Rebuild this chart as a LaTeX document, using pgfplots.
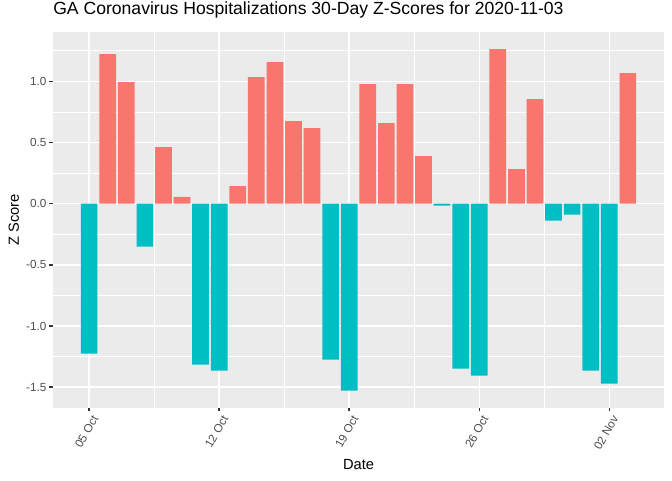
\documentclass[border=0pt]{standalone}
\usepackage{pgfplots}
\pgfplotsset{compat=1.18}
\usepackage{fontspec}
\setmainfont{Liberation Sans}

\definecolor{posred}{HTML}{F8766D}
\definecolor{negcyan}{HTML}{00BFC4}
\definecolor{panelbg}{HTML}{EBEBEB}
\definecolor{tickgray}{HTML}{333333}
\definecolor{labgray}{HTML}{4D4D4D}

\begin{document}
\begin{tikzpicture}
\path[use as bounding box] (0,0) rectangle (504pt,360pt);
\begin{axis}[
  at={(39.75pt,54.2pt)}, anchor=south west,
  scale only axis, width=458.25pt, height=281.8pt,
  xmin=-1.945, xmax=30.945, ymin=-1.668, ymax=1.404,
  axis background/.style={fill=panelbg},
  axis line style={draw=none},
  xtick pos=bottom, ytick pos=left,
  xtick={0,7,14,21,28},
  xticklabels={05 Oct,12 Oct,19 Oct,26 Oct,02 Nov},
  minor xtick={3.5,10.5,17.5,24.5},
  ytick={-1.5,-1,-0.5,0,0.5,1},
  yticklabels={-1.5,-1.0,-0.5,0.0,0.5,1.0},
  minor ytick={-1.25,-0.75,-0.25,0.25,0.75,1.25},
  grid=both,
  major grid style={white, line width=1.07pt},
  minor grid style={white, line width=0.53pt},
  tick align=outside,
  major tick length=2.75pt, minor tick length=0pt,
  major tick style={tickgray, line width=1.07pt},
  tick label style={font=\fontsize{8.8}{10}\selectfont, text=labgray},
  xticklabel style={xshift=1.8pt, yshift=-2.2pt, rotate=60, anchor=north east, inner sep=0pt},
  yticklabel style={inner sep=2pt},
  title={GA Coronavirus Hospitalizations 30-Day Z-Scores for 2020-11-03},
  title style={at={(axis description cs:0,1)}, anchor=base west, inner sep=0pt,
    yshift=7.3pt, font=\fontsize{13.2}{15}\selectfont},
  xlabel={Date},
  xlabel style={at={(axis description cs:0.5,-0.152)}, anchor=center, font=\fontsize{11}{13}\selectfont},
  ylabel={Z Score},
  ylabel style={at={(axis description cs:-0.064,0.5)}, anchor=center, font=\fontsize{11}{13}\selectfont},
]
% negative days
\addplot[ybar, bar width=0.9, fill=negcyan, draw=none] coordinates {
  (0,-1.225) (3,-0.351) (6,-1.315) (7,-1.364) (13,-1.274) (14,-1.528)
  (19,-0.016) (20,-1.348) (21,-1.405) (25,-0.139) (26,-0.090)
  (27,-1.364) (28,-1.471)
};
% positive days
\addplot[ybar, bar width=0.9, fill=posred, draw=none] coordinates {
  (1,1.223) (2,0.994) (4,0.463) (5,0.056) (8,0.144) (9,1.035)
  (10,1.157) (11,0.675) (12,0.618) (15,0.978) (16,0.659) (17,0.978)
  (18,0.389) (22,1.264) (23,0.283) (24,0.855) (29,1.068)
};
\end{axis}
\end{tikzpicture}
\end{document}
